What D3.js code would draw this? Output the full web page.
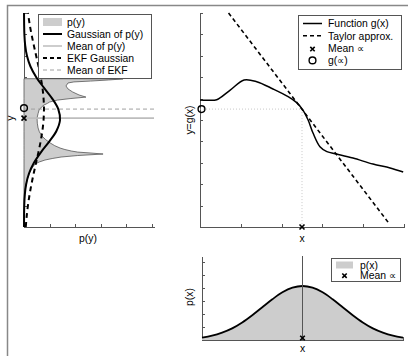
<!DOCTYPE html>
<html>
<head>
<meta charset="utf-8">
<script src="https://cdn.jsdelivr.net/npm/d3@7"></script>
<style>
  html, body { margin: 0; padding: 0; background: #fff; }
  svg { display: block; font-family: "Liberation Sans", Arial, Helvetica, sans-serif; }
  .axis path, .axis line { stroke: #555; shape-rendering: crispEdges; }
</style>
</head>
<body>
<div id="chart"></div>
<script>
// g(x)
const gX = [0, 0.2, 0.41, 0.74, 1.08, 1.39, 1.79, 2.16, 2.37, 2.52, 2.65, 2.77, 2.94, 3.11, 3.35, 3.75, 4.24, 4.66, 4.98];
const gY = [5.93, 5.92, 5.95, 6.40, 6.87, 6.79, 6.45, 6.09, 5.81, 5.47, 5.00, 4.39, 3.75, 3.52, 3.41, 3.22, 2.94, 2.76, 2.57];

// linearisation at the mean
const taylorX = [0.70, 4.62];
const taylorY = [10.0, 0.20];
const meanX = 2.5;
const meanGX = 5.51;   // g(mean)
const meanPY = 5.09;   // mean of p(y)

// p(y) (histogram of transformed samples)
const pyY = [0, 1.26, 1.73, 2.20, 2.57, 2.76, 2.94, 3.04, 3.13, 3.20, 3.27, 3.34, 3.41, 3.46, 3.50, 3.55, 3.62, 3.69, 3.80, 3.93, 4.08, 4.25, 4.45, 4.63, 4.85, 5.09, 5.30, 5.47, 5.60, 5.70, 5.78, 5.84, 5.93, 6.00, 6.07, 6.17, 6.31, 6.45, 6.59, 6.73, 6.78, 6.82, 6.87, 6.92, 6.93];
const pyD = [0, 0.01, 0.04, 0.12, 0.23, 0.32, 0.43, 0.60, 0.82, 1.10, 1.45, 2.10, 3.09, 2.58, 2.10, 1.85, 1.60, 1.41, 1.20, 1.02, 0.85, 0.70, 0.60, 0.55, 0.52, 0.51, 0.55, 0.59, 0.68, 0.78, 0.92, 1.00, 1.30, 1.80, 2.42, 2.15, 1.90, 1.72, 1.64, 1.72, 1.95, 2.60, 3.30, 3.87, 0];

// Gaussian fit of p(y) and EKF Gaussian, sampled along y
const gaussY = [0, 0.5, 1, 1.5, 2, 2.5, 3, 3.5, 4, 4.5, 5, 5.5, 6, 6.5, 7, 7.5, 8, 8.5, 9, 9.5, 10];
const gaussPY = [0.001, 0.003, 0.010, 0.031, 0.084, 0.195, 0.388, 0.667, 0.992, 1.272, 1.407, 1.342, 1.104, 0.783, 0.479, 0.253, 0.115, 0.045, 0.015, 0.005, 0.001];
const ekfPY = [0.069, 0.105, 0.153, 0.216, 0.291, 0.378, 0.471, 0.565, 0.650, 0.719, 0.764, 0.780, 0.765, 0.721, 0.653, 0.568, 0.475, 0.382, 0.294, 0.218, 0.156];

// p(x), lower panel
const pxX = [0, 0.25, 0.5, 0.75, 1, 1.25, 1.5, 1.75, 2, 2.25, 2.5, 2.75, 3, 3.25, 3.5, 3.75, 4, 4.25, 4.5, 4.75, 5];
const pxD = [0.18, 0.33, 0.57, 0.90, 1.36, 1.92, 2.54, 3.15, 3.69, 4.05, 4.18, 4.05, 3.69, 3.15, 2.54, 1.92, 1.36, 0.90, 0.57, 0.33, 0.18];

const legendTL = ['p(y)', 'Gaussian of p(y)', 'Mean of p(y)', 'EKF Gaussian', 'Mean of EKF'];
const legendTR = ['Function g(x)', 'Taylor approx.', 'Mean \u221d', 'g(\u221d)'];
const legendBR = ['p(x)', 'Mean \u221d'];

const W = 408, H = 356;
const FS = '10.4px';
const FILL = '#cdcdcd';

const svg = d3.select('#chart').append('svg')
  .attr('width', W).attr('height', H);

// outer frame (left and top only visible)
svg.append('path')
  .attr('d', `M7.5,${H} V5.5 H${W}`)
  .attr('fill', 'none').attr('stroke', '#888').attr('stroke-width', 1.5);

// scales
const xTR = d3.scaleLinear().domain([0, 5]).range([200, 404]);
const yTR = d3.scaleLinear().domain([0, 10]).range([227, 13]);
const xTL = d3.scaleLinear().domain([0, 5.08]).range([24, 154]);
const yTL = yTR;
const xBR = d3.scaleLinear().domain([0, 5]).range([202, 403]);
const yBR = d3.scaleLinear().domain([0, 6.5]).range([340, 256]);

function axes(xs, ys, xTicks, yTicks) {
  const h = ys.range()[0];
  const l = xs.range()[0];
  svg.append('g').attr('class', 'axis')
    .attr('transform', `translate(0,${h})`)
    .call(d3.axisBottom(xs).tickValues(xTicks).tickSize(-3).tickSizeOuter(0).tickFormat(''));
  svg.append('g').attr('class', 'axis')
    .attr('transform', `translate(${l},0)`)
    .call(d3.axisLeft(ys).tickValues(yTicks).tickSize(-3).tickSizeOuter(0).tickFormat(''));
}
axes(xTL, yTL, [1, 2, 3, 4, 5], d3.range(1, 11));
axes(xTR, yTR, [1, 2, 3, 4, 5], d3.range(1, 11));
axes(xBR, yBR, [1, 2, 3, 4, 5], d3.range(1, 7));

function cross(g, cx, cy, r) {
  g.append('path')
    .attr('d', `M${cx - r},${cy - r}L${cx + r},${cy + r}M${cx - r},${cy + r}L${cx + r},${cy - r}`)
    .attr('stroke', '#000').attr('stroke-width', 1.6).attr('fill', 'none');
}
function ring(g, cx, cy) {
  g.append('circle').attr('cx', cx).attr('cy', cy).attr('r', 3.4)
    .attr('fill', 'none').attr('stroke', '#000').attr('stroke-width', 1.4);
}

// ---------- top-left: p(y) ----------
const pyData = pyY.map((y, i) => ({ y, d: pyD[i] }));
svg.append('path').datum(pyData)
  .attr('d', d3.area().y(d => yTL(d.y)).x0(xTL(0)).x1(d => xTL(d.d)))
  .attr('fill', FILL).attr('stroke', '#555').attr('stroke-width', 0.8);

svg.append('line')
  .attr('x1', xTL(0)).attr('x2', xTL(5.08))
  .attr('y1', yTL(meanPY)).attr('y2', yTL(meanPY))
  .attr('stroke', '#bdbdbd').attr('stroke-width', 1.8);
svg.append('line')
  .attr('x1', xTL(0)).attr('x2', xTL(5.08))
  .attr('y1', yTL(meanGX)).attr('y2', yTL(meanGX))
  .attr('stroke', '#a0a0a0').attr('stroke-width', 1).attr('stroke-dasharray', '4,3');

const gauss = gaussY.map((y, i) => ({ y, a: gaussPY[i], b: ekfPY[i] }));
svg.append('path').datum(gauss)
  .attr('d', d3.line().y(d => yTL(d.y)).x(d => xTL(d.a)).curve(d3.curveCatmullRom))
  .attr('fill', 'none').attr('stroke', '#000').attr('stroke-width', 2);
svg.append('path').datum(gauss)
  .attr('d', d3.line().y(d => yTL(d.y)).x(d => xTL(d.b)).curve(d3.curveCatmullRom))
  .attr('fill', 'none').attr('stroke', '#000').attr('stroke-width', 2).attr('stroke-dasharray', '5,4');

ring(svg, xTL(0), yTL(meanGX) - 1);
cross(svg, xTL(0), yTL(meanPY), 2.5);

svg.append('text').attr('x', 14).attr('y', yTL(meanPY))
  .attr('transform', `rotate(-90,14,${yTL(meanPY)})`)
  .attr('text-anchor', 'middle').attr('font-size', FS).text('y');
svg.append('text').attr('x', (xTL.range()[0] + 152) / 2).attr('y', 242)
  .attr('text-anchor', 'middle').attr('font-size', FS).text('p(y)');

// legend TL
const lgTL = svg.append('g');
lgTL.append('rect').attr('x', 38.5).attr('y', 14.5).attr('width', 113).attr('height', 64)
  .attr('fill', '#fff').attr('stroke', '#555').attr('stroke-width', 1);
legendTL.forEach((t, i) => {
  const cy = 22 + i * 12;
  if (i === 0) {
    lgTL.append('rect').attr('x', 43).attr('y', cy - 4).attr('width', 19).attr('height', 8).attr('fill', FILL);
  } else {
    const st = [null, ['#000', 2, null], ['#bdbdbd', 1.5, null], ['#000', 2, '4,3'], ['#a0a0a0', 1, '4,3']][i];
    lgTL.append('line').attr('x1', 43).attr('x2', 62).attr('y1', cy).attr('y2', cy)
      .attr('stroke', st[0]).attr('stroke-width', st[1]).attr('stroke-dasharray', st[2]);
  }
  lgTL.append('text').attr('x', 67).attr('y', cy + 3.8).attr('font-size', FS).text(t);
});

// ---------- top-right: g(x) ----------
svg.append('path')
  .attr('d', `M${xTR(0)},${yTR(meanGX)}H${xTR(meanX)}V${yTR(0)}`)
  .attr('fill', 'none').attr('stroke', '#bbb').attr('stroke-width', 0.8).attr('stroke-dasharray', '1,2');

const tay = taylorX.map((x, i) => ({ x, y: taylorY[i] }));
svg.append('path').datum(tay)
  .attr('d', d3.line().x(d => xTR(d.x)).y(d => yTR(d.y)))
  .attr('fill', 'none').attr('stroke', '#000').attr('stroke-width', 1.6).attr('stroke-dasharray', '4,3');

const gData = gX.map((x, i) => ({ x, y: gY[i] }));
svg.append('path').datum(gData)
  .attr('d', d3.line().x(d => xTR(d.x)).y(d => yTR(d.y)).curve(d3.curveCatmullRom))
  .attr('fill', 'none').attr('stroke', '#000').attr('stroke-width', 1.5);

ring(svg, xTR(0) + 1.5, yTR(meanGX));
cross(svg, xTR(meanX), yTR(0), 2.5);

svg.append('text').attr('x', 193).attr('y', 120)
  .attr('transform', 'rotate(-90,193,120)')
  .attr('text-anchor', 'middle').attr('font-size', FS).text('y=g(x)');
svg.append('text').attr('x', xTR(meanX)).attr('y', 242)
  .attr('text-anchor', 'middle').attr('font-size', FS).text('x');

const lgTR = svg.append('g');
lgTR.append('rect').attr('x', 298.5).attr('y', 15.5).attr('width', 103).attr('height', 54)
  .attr('fill', '#fff').attr('stroke', '#555').attr('stroke-width', 1);
legendTR.forEach((t, i) => {
  const cy = 23.5 + i * 12.3;
  if (i === 0) {
    lgTR.append('line').attr('x1', 303).attr('x2', 322).attr('y1', cy).attr('y2', cy)
      .attr('stroke', '#000').attr('stroke-width', 1.5);
  } else if (i === 1) {
    lgTR.append('line').attr('x1', 303).attr('x2', 322).attr('y1', cy).attr('y2', cy)
      .attr('stroke', '#000').attr('stroke-width', 1.6).attr('stroke-dasharray', '4,3');
  } else if (i === 2) {
    cross(lgTR, 312.5, cy + 1, 2.2);
  } else {
    ring(lgTR, 312.5, cy);
  }
  lgTR.append('text').attr('x', 328).attr('y', cy + 3.8).attr('font-size', FS).text(t);
});

// ---------- bottom-right: p(x) ----------
const pxData = pxX.map((x, i) => ({ x, d: pxD[i] }));
svg.append('path').datum(pxData)
  .attr('d', d3.area().x(d => xBR(d.x)).y0(yBR(0)).y1(d => yBR(d.d)).curve(d3.curveCatmullRom))
  .attr('fill', FILL);
svg.append('path').datum(pxData)
  .attr('d', d3.line().x(d => xBR(d.x)).y(d => yBR(d.d)).curve(d3.curveCatmullRom))
  .attr('fill', 'none').attr('stroke', '#000').attr('stroke-width', 1.8);
svg.append('line')
  .attr('x1', xBR(meanX)).attr('x2', xBR(meanX))
  .attr('y1', yBR(6.5)).attr('y2', yBR(0))
  .attr('stroke', '#555').attr('stroke-width', 1);
cross(svg, xBR(meanX), yBR(0) - 2, 2.3);

svg.append('text').attr('x', 193).attr('y', 297)
  .attr('transform', 'rotate(-90,193,297)')
  .attr('text-anchor', 'middle').attr('font-size', FS).text('p(x)');
svg.append('text').attr('x', xBR(meanX)).attr('y', 352)
  .attr('text-anchor', 'middle').attr('font-size', FS).text('x');

const lgBR = svg.append('g');
lgBR.append('rect').attr('x', 331.5).attr('y', 258.5).attr('width', 69).attr('height', 23)
  .attr('fill', '#fff').attr('stroke', '#555').attr('stroke-width', 1);
legendBR.forEach((t, i) => {
  const cy = 265 + i * 10.2;
  if (i === 0) {
    lgBR.append('rect').attr('x', 336).attr('y', cy - 3.5).attr('width', 17).attr('height', 7).attr('fill', FILL);
  } else {
    cross(lgBR, 344.5, cy + 0.5, 2.2);
  }
  lgBR.append('text').attr('x', 360).attr('y', cy + 3.6).attr('font-size', FS).text(t);
});
</script>
</body>
</html>
